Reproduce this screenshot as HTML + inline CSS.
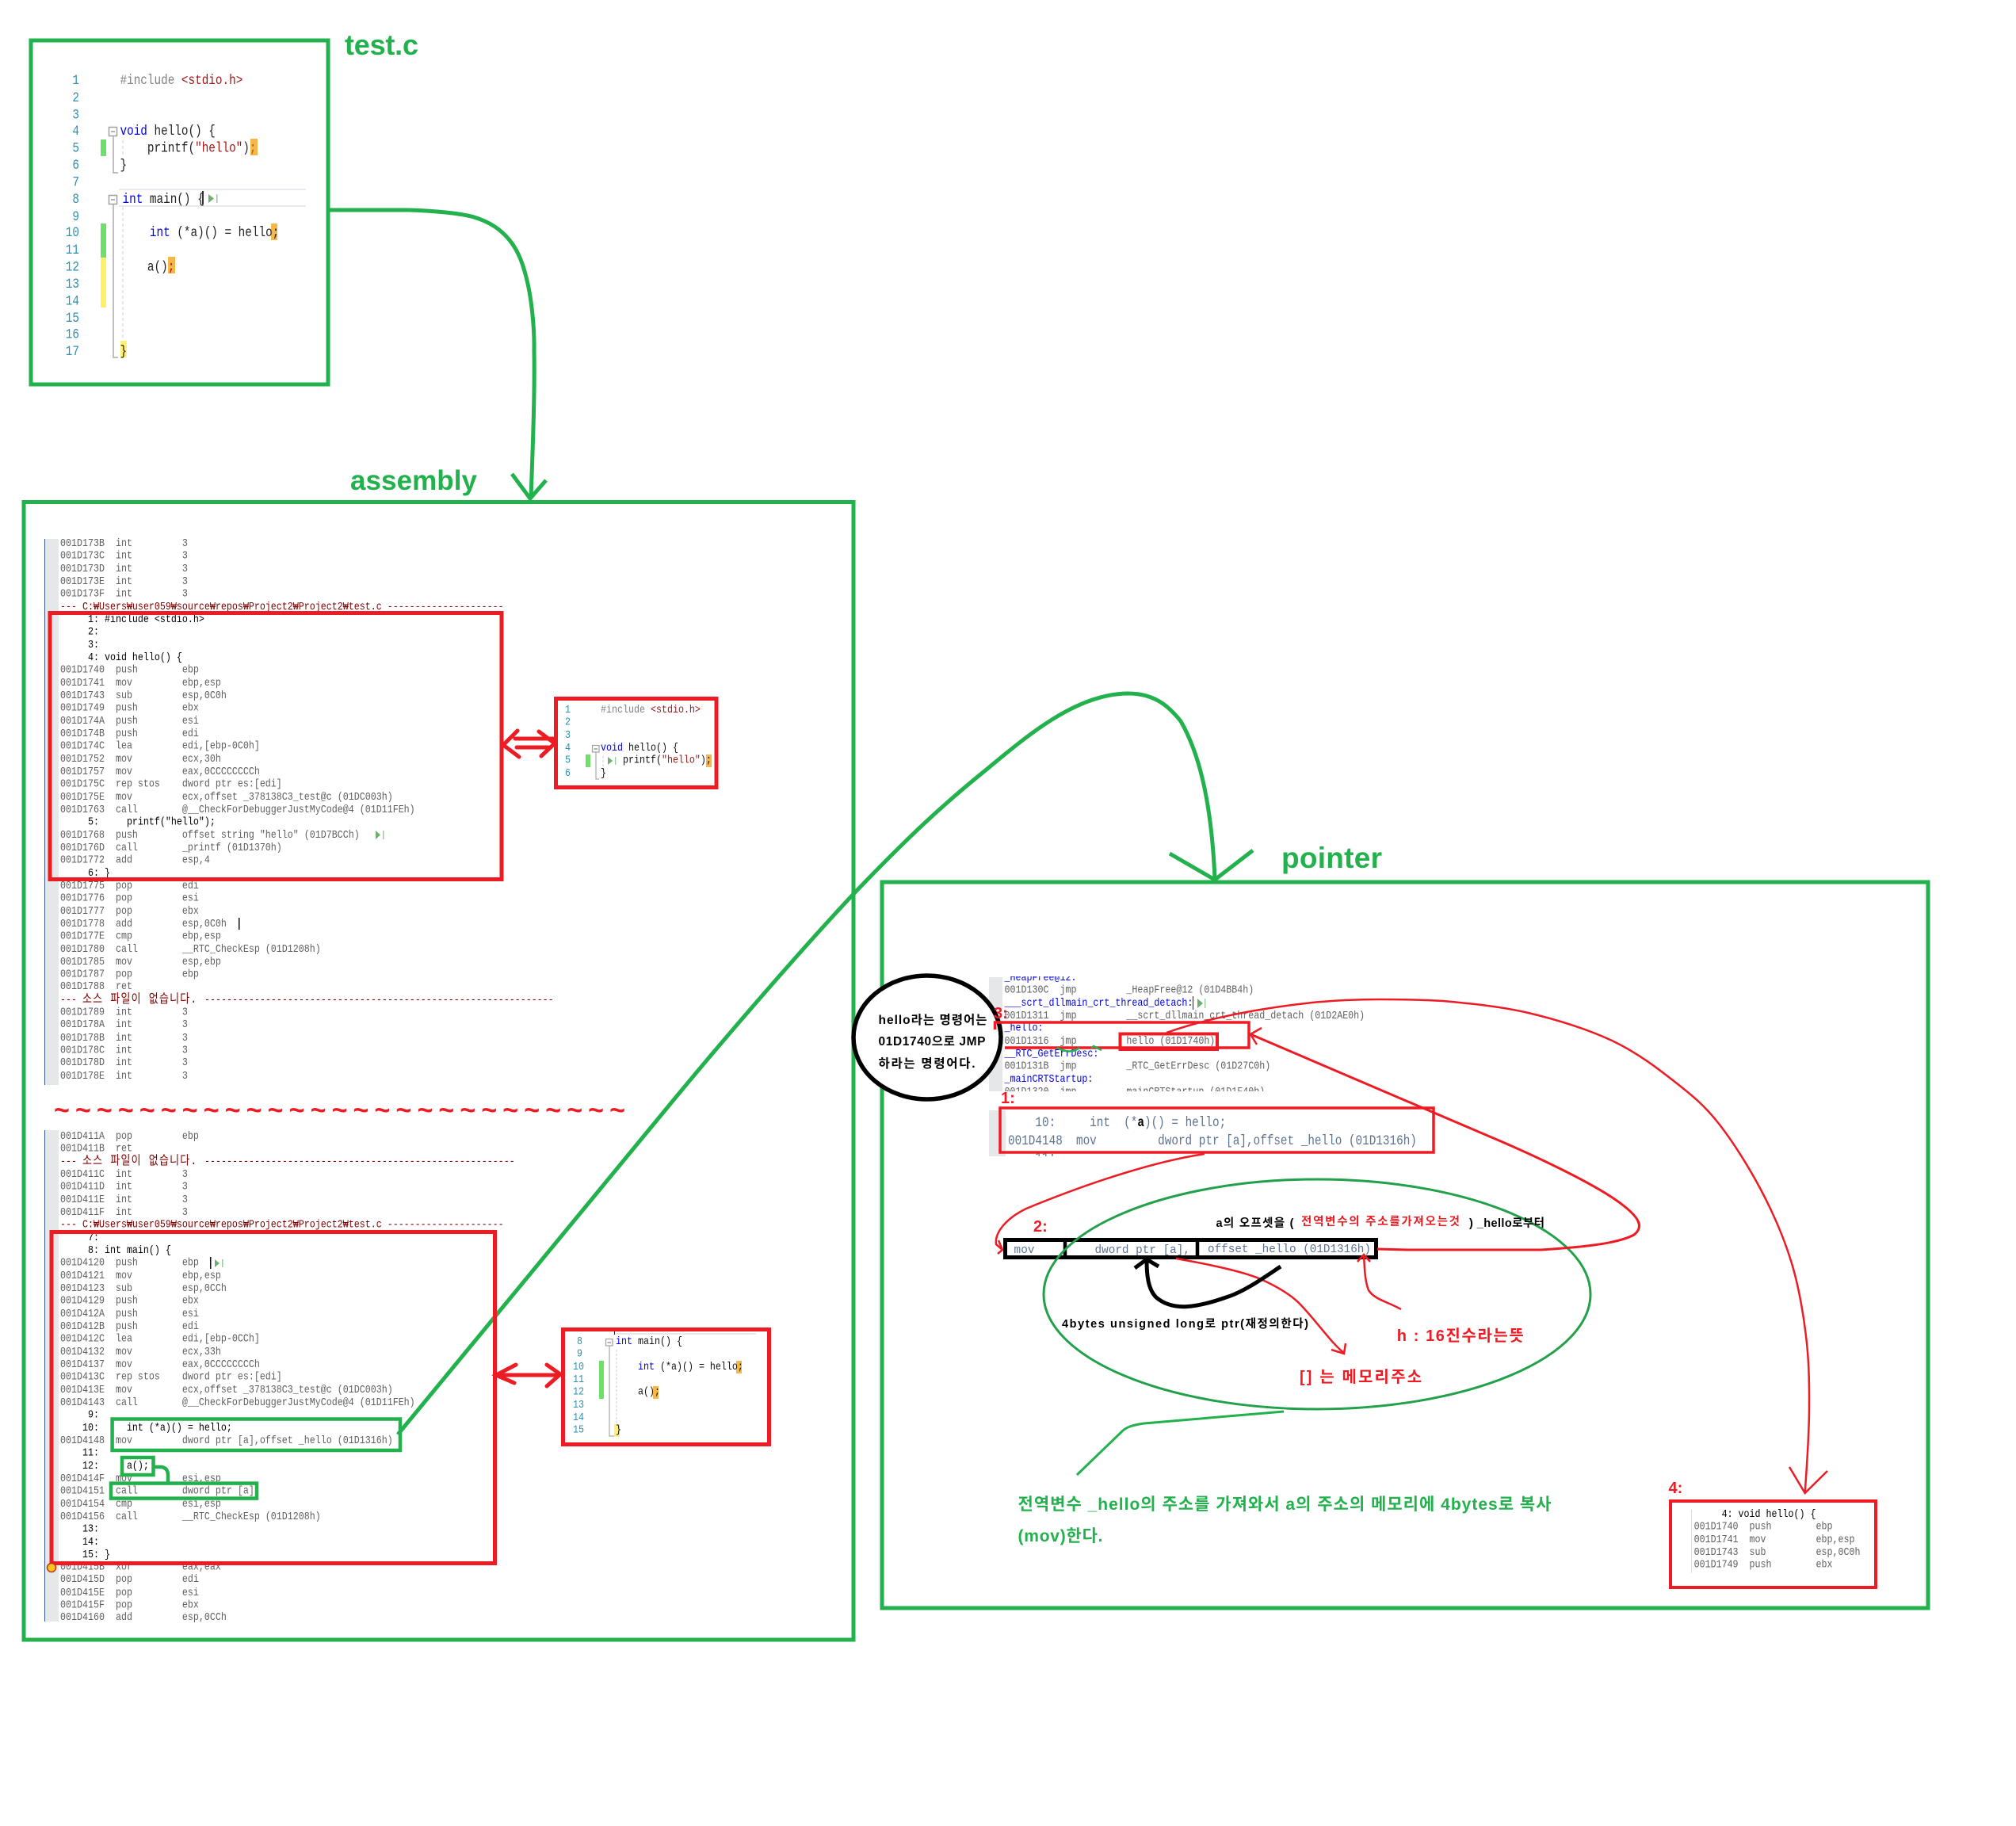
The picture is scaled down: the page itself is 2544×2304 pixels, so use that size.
<!DOCTYPE html>
<html><head><meta charset="utf-8">
<style>
html,body{margin:0;padding:0;background:#fff}
#p{position:relative;width:2544px;height:2304px;overflow:hidden;background:#fff}
svg{position:absolute;left:0;top:0}
.a,.c,.n{position:absolute;margin:0;white-space:pre;transform:scaleY(1.2);transform-origin:0 0;font-family:"Liberation Mono","Noto Sans CJK KR",monospace}
.a{font-size:11.67px;line-height:13.333px;color:#5f5f5f}
.c{font-size:14.33px;line-height:17.833px;color:#222}
.n{font-size:14.33px;line-height:17.833px;color:#2b91af;text-align:right}
.r{color:#800000}.b{color:#000}.u{color:#0000e0}.g{color:#808080}.m{color:#a31515}
.k{display:inline-block;width:154px;line-height:0;font-size:13px;letter-spacing:1.2px}
.w{position:absolute;overflow:hidden}
text{font-family:"Liberation Sans","Noto Sans CJK KR",sans-serif;font-weight:bold}
.t{font-family:"Liberation Mono","Noto Sans CJK KR",monospace;font-weight:normal;fill:#5d7290;font-size:14.33px}
</style></head><body><div id="p">

<svg width="2544" height="2304" viewBox="0 0 2544 2304">
<!-- test.c backgrounds -->
<path d="M150,239H386M150,260H386" stroke="#e8e8f0" stroke-width="2"/>
<rect x="127" y="176" width="7" height="21" fill="#6ee06a"/>
<rect x="127" y="282" width="7" height="43" fill="#6ee06a"/>
<rect x="127" y="325" width="7" height="63" fill="#fff066"/>
<rect x="316" y="175" width="9" height="21" fill="#f6b74a"/>
<rect x="342" y="282" width="8" height="21" fill="#f6b74a"/>
<rect x="212" y="324" width="9" height="21" fill="#f6b74a"/>
<rect x="152" y="430" width="8" height="21" fill="#fff176"/>
<g fill="#fff" stroke="#a0a0a0" stroke-width="1.5">
<rect x="137.5" y="160.5" width="10" height="11"/><rect x="137.5" y="246.5" width="10" height="11"/>
</g>
<path d="M140,166H145M140,252H145" stroke="#666" stroke-width="1"/>
<path d="M143,172V218H149M143,258V451H149" fill="none" stroke="#aaa" stroke-width="1.5"/>
<path d="M155,177V197M155,261V429" stroke="#ccc" stroke-width="1" stroke-dasharray="4 3"/>
<rect x="255" y="241" width="2" height="17" fill="#333"/>
<path d="M263,245L270,250.500L263,256Z" fill="#6fb06f"/><rect x="273" y="245" width="1.500" height="11" fill="#9c9"/>

<!-- assembly gutters -->
<rect x="56" y="680" width="18" height="689" fill="#e6e7e8"/><rect x="56" y="680" width="1" height="689" fill="#3a5a9a"/>
<rect x="56" y="1426" width="18" height="620" fill="#e6e7e8"/><rect x="56" y="1426" width="1" height="620" fill="#3a5a9a"/>
<rect x="301" y="1158" width="1.500" height="15" fill="#111"/>
<path d="M474,1048L480,1053.500L474,1059Z" fill="#6fb06f"/><rect x="483" y="1048" width="1.500" height="11" fill="#9c9"/>
<rect x="265" y="1586" width="1.500" height="15" fill="#111"/>
<path d="M271,1589L277,1594L271,1599Z" fill="#6fb06f"/><rect x="280" y="1589" width="1.500" height="10" fill="#9c9"/>

<!-- small hello crop backgrounds -->
<rect x="739" y="952" width="6" height="16" fill="#6ee06a"/>
<rect x="891" y="952" width="7" height="16" fill="#f6b74a"/>
<rect x="747.500" y="940.500" width="8.500" height="8.500" fill="#fff" stroke="#a0a0a0" stroke-width="1.200"/>
<path d="M749.500,945H754" stroke="#666"/>
<path d="M752,949V983H756" fill="none" stroke="#aaa" stroke-width="1.200"/>
<path d="M761,954V973" stroke="#ccc" stroke-dasharray="3 2"/>
<path d="M767,955L773,960L767,965Z" fill="#6fb06f"/><rect x="776" y="955" width="1.300" height="10" fill="#9c9"/>

<!-- small main crop backgrounds -->
<rect x="775" y="1682" width="179" height="2" fill="#e8e8f0"/><rect x="775" y="1678" width="1" height="6" fill="#222"/>
<rect x="756" y="1717" width="6" height="48" fill="#6ee06a"/>
<rect x="929" y="1717" width="7" height="16" fill="#f6b74a"/>
<rect x="824" y="1749" width="7" height="16" fill="#f6b74a"/>
<rect x="775" y="1797" width="7" height="16" fill="#fff176"/>
<rect x="764.500" y="1689.500" width="8.500" height="8.500" fill="#fff" stroke="#a0a0a0" stroke-width="1.200"/>
<path d="M766.500,1694H771" stroke="#666"/>
<path d="M769,1698V1812H775" fill="none" stroke="#aaa" stroke-width="1.200"/>
<path d="M778,1703V1797" stroke="#ccc" stroke-dasharray="3 2"/>

<!-- pointer crop gutters -->
<rect x="1248" y="1233" width="17" height="144" fill="#e6e7e8"/>
<rect x="1248" y="1401" width="21" height="58" fill="#e6e7e8"/>
<rect x="2134" y="1905" width="1" height="80" fill="#ddd"/>
</svg>

<!-- test.c text -->
<pre class="n" style="left:76px;top:93px;width:24px">1
2
3
4
5
6
7
8
9
10
11
12
13
14
15
16
17</pre>
<pre class="c" style="left:151.500px;top:93px"><span class="g">#include</span> <span class="m">&lt;stdio.h&gt;</span>


<span class="u">void</span> hello() {
    printf(<span class="m">"hello"</span>)<span style="color:#b06000">;</span>
}

<span style="position:relative;left:3px"><span class="u">int</span> main() {</span>

<span style="position:relative;left:3px">    <span class="u">int</span> (*a)() = hello;</span>

    a()<span style="color:#c00">;</span>




}</pre>

<!-- assembly block 1 -->
<pre class="a" style="left:76px;top:677.700px">001D173B  int         3
001D173C  int         3
001D173D  int         3
001D173E  int         3
001D173F  int         3
<span class="r">--- C:₩Users₩user059₩source₩repos₩Project2₩Project2₩test.c ---------------------</span>
<span class="b">     1: #include &lt;stdio.h&gt;
     2:
     3:
     4: void hello() {</span>
001D1740  push        ebp
001D1741  mov         ebp,esp
001D1743  sub         esp,0C0h
001D1749  push        ebx
001D174A  push        esi
001D174B  push        edi
001D174C  lea         edi,[ebp-0C0h]
001D1752  mov         ecx,30h
001D1757  mov         eax,0CCCCCCCCh
001D175C  rep stos    dword ptr es:[edi]
001D175E  mov         ecx,offset _378138C3_test@c (01DC003h)
001D1763  call        @__CheckForDebuggerJustMyCode@4 (01D11FEh)
<span class="b">     5:     printf("hello");</span>
001D1768  push        offset string "hello" (01D7BCCh)
001D176D  call        _printf (01D1370h)
001D1772  add         esp,4
<span class="b">     6: }</span>
001D1775  pop         edi
001D1776  pop         esi
001D1777  pop         ebx
001D1778  add         esp,0C0h
001D177E  cmp         ebp,esp
001D1780  call        __RTC_CheckEsp (01D1208h)
001D1785  mov         esp,ebp
001D1787  pop         ebp
001D1788  ret
<span class="r">--- <span class="k">소스 파일이 없습니다.</span>---------------------------------------------------------------</span>
001D1789  int         3
001D178A  int         3
001D178B  int         3
001D178C  int         3
001D178D  int         3
001D178E  int         3</pre>

<!-- assembly block 2 -->
<pre class="a" style="left:76px;top:1425.800px">001D411A  pop         ebp
001D411B  ret
<span class="r">--- <span class="k">소스 파일이 없습니다.</span>--------------------------------------------------------</span>
001D411C  int         3
001D411D  int         3
001D411E  int         3
001D411F  int         3
<span class="r">--- C:₩Users₩user059₩source₩repos₩Project2₩Project2₩test.c ---------------------</span>
<span class="b">     7:
     8: int main() {</span>
001D4120  push        ebp
001D4121  mov         ebp,esp
001D4123  sub         esp,0CCh
001D4129  push        ebx
001D412A  push        esi
001D412B  push        edi
001D412C  lea         edi,[ebp-0CCh]
001D4132  mov         ecx,33h
001D4137  mov         eax,0CCCCCCCCh
001D413C  rep stos    dword ptr es:[edi]
001D413E  mov         ecx,offset _378138C3_test@c (01DC003h)
001D4143  call        @__CheckForDebuggerJustMyCode@4 (01D11FEh)
<span class="b">     9:
    10:     int (*a)() = hello;</span>
001D4148  mov         dword ptr [a],offset _hello (01D1316h)
<span class="b">    11:
    12:     a();</span>
001D414F  mov         esi,esp
001D4151  call        dword ptr [a]
001D4154  cmp         esi,esp
001D4156  call        __RTC_CheckEsp (01D1208h)
<span class="b">    13:
    14:
    15: }</span>
001D415B  xor         eax,eax
001D415D  pop         edi
001D415E  pop         esi
001D415F  pop         ebx
001D4160  add         esp,0CCh</pre>

<!-- small hello crop -->
<pre class="a" style="left:713px;top:887.700px;color:#2b91af">1
2
3
4
5
6</pre>
<pre class="a" style="left:758px;top:887.700px;color:#111"><span class="g">#include</span> <span class="m">&lt;stdio.h&gt;</span>


<span class="u">void</span> hello() {
    printf(<span class="m">"hello"</span>);
}</pre>

<!-- small main crop -->
<pre class="a" style="left:723px;top:1684.700px;color:#2b91af;width:12px;text-align:right">8
9
10
11
12
13
14
15</pre>
<pre class="a" style="left:777px;top:1684.700px;color:#111"><span class="u">int</span> main() {

    <span class="u">int</span> (*a)() = hello;

    a();


}</pre>

<!-- pointer crops -->
<div class="w" style="left:1248px;top:1232px;width:520px;height:145px">
<pre class="a" style="left:19.500px;top:-6px"><span class="u">_HeapFree@12:</span>
001D130C  jmp         _HeapFree@12 (01D4BB4h)
<span class="u">___scrt_dllmain_crt_thread_detach:</span>
001D1311  jmp         __scrt_dllmain_crt_thread_detach (01D2AE0h)
<span class="u">_hello:</span>
001D1316  jmp         hello (01D1740h)
<span class="u">__RTC_GetErrDesc:</span>
001D131B  jmp         _RTC_GetErrDesc (01D27C0h)
<span class="u">_mainCRTStartup:</span>
001D1320  jmp         mainCRTStartup (01D1F40h)</pre>
</div>
<div class="w" style="left:1248px;top:1400px;width:555px;height:59px">
<pre class="c" style="left:24px;top:-15px;line-height:18.333px;color:#5d7290">     9:
    10:     int  (*<b style="color:#000">a</b>)() = hello;
001D4148  mov         dword ptr [a],offset _hello (01D1316h)
    11:</pre>
</div>
<pre class="a" style="left:2137.600px;top:1902.700px"><span class="b">     4: void hello() {</span>
001D1740  push        ebp
001D1741  mov         ebp,esp
001D1743  sub         esp,0C0h
001D1749  push        ebx</pre>

<svg width="2544" height="2304" viewBox="0 0 2544 2304" fill="none">
<!-- Big green frames -->
<g stroke="#22b14c" stroke-width="5">
<rect x="39" y="51" width="375" height="434"/>
<rect x="30" y="633.500" width="1047" height="1435.500"/>
<rect x="1113" y="1113" width="1320" height="916"/>
<path d="M416,265 L516,265 C545,266 575,268 597,273.600 C618,279.900 631.500,289 643,303 C654.500,317 660.800,334.800 666,358 C671,381 674.500,414 674,442 C675,500 672,570 670,629"/>
<path d="M646,598 L669,629 L689,606"/>
<path d="M502,1810 L840,1400 C900,1327 1000,1210 1077,1128 C1146,1056 1190,1015 1246,970 C1300,925 1360,875 1424,875 C1460,875 1478,895 1490,910 C1510,945 1528,1000 1533,1108"/>
<path d="M1476,1077 L1533,1110 L1581,1073"/>
</g>
<!-- red frames -->
<g stroke="#ed1c24" stroke-width="5">
<rect x="63" y="773.500" width="570" height="336"/>
<rect x="701.500" y="881.500" width="202.500" height="112"/>
<rect x="65" y="1554.500" width="559.500" height="418"/>
<rect x="710.500" y="1677.500" width="260" height="145"/>
<path d="M650,932H698M652,943H695M653,922L635,940L655,955M680,923L700,938L683,954" stroke-linecap="round"/>
<path d="M628,1735H706M651,1722L626,1735L649,1745M690,1722L707,1734L690,1749" stroke-linecap="round"/>
</g>
<!-- green inner -->
<g stroke="#22b14c" stroke-width="4.500">
<rect x="141.600" y="1790.500" width="363.400" height="39.500"/>
<rect x="154" y="1839" width="39.500" height="22"/>
<rect x="140" y="1871.600" width="184" height="19"/>
<path d="M195.500,1851H204C210,1852 212,1856 212,1862V1870"/>
</g>
<circle cx="65" cy="1978" r="5.500" fill="#f5c518" stroke="#c03020" stroke-width="1.500"/>

<!-- separator -->
<text x="68" y="1412" font-size="34" fill="#ed1c24" letter-spacing="7" textLength="728">~~~~~~~~~~~~~~~~~~~~~~~~~~~</text>

<!-- titles -->
<text x="435" y="69" font-size="36" fill="#22b14c" textLength="93">test.c</text>
<text x="442" y="618" font-size="35" fill="#22b14c" textLength="160">assembly</text>
<text x="1617" y="1095" font-size="37" fill="#22b14c" textLength="127">pointer</text>

<!-- pointer: ellipse note -->
<ellipse cx="1170" cy="1309" rx="93" ry="78" fill="#fff" stroke="#000" stroke-width="5.500"/>
<g fill="#000" font-size="15.500">
<text x="1108.500" y="1292" textLength="137">hello라는 명령어는</text>
<text x="1108.500" y="1319" textLength="135">01D1740으로 JMP</text>
<text x="1108.500" y="1347" textLength="122">하라는 명령어다.</text>
</g>

<!-- caret in crop 1 -->
<rect x="1505" y="1257" width="1" height="17" fill="#222"/>
<path d="M1511,1260L1518,1266L1511,1272Z" fill="#6fb06f"/><rect x="1520" y="1260" width="1.300" height="12" fill="#9c9"/>

<!-- pointer red frames and labels -->
<g stroke="#ed1c24">
<path d="M1255.500,1299V1290H1576V1322H1268" stroke-width="3.500"/>
<rect x="1413.500" y="1304.500" width="122.500" height="19.500" stroke-width="4"/>
<rect x="1262" y="1398" width="547" height="56" stroke-width="3.500"/>
<rect x="2108" y="1894" width="259" height="109" stroke-width="4"/>
</g>
<path d="M1334,1322C1345,1328 1355,1328 1362,1322M1377,1323L1380,1320L1390,1325" stroke="#22b14c" stroke-width="2.500"/>
<g fill="#ed1c24" font-size="20">
<text x="1254" y="1285">3:</text>
<text x="1263" y="1392">1:</text>
<text x="1304" y="1554">2:</text>
<text x="2105.500" y="1884">4:</text>
</g>

<!-- mov bar -->
<rect x="1268.500" y="1564.500" width="468" height="22" stroke="#000" stroke-width="5"/>
<path d="M1344,1564V1587M1511,1564V1587" stroke="#000" stroke-width="4.500"/>
<text class="t" x="1279.500" y="1581" textLength="26">mov</text>
<text class="t" x="1381.500" y="1581" textLength="120.500">dword ptr [a],</text>
<text class="t" x="1524" y="1580" textLength="206">offset _hello (01D1316h)</text>

<!-- ellipse and curves -->
<ellipse cx="1662" cy="1633" rx="345" ry="145" stroke="#22a04a" stroke-width="3"/>
<path d="M1620,1781 L1444,1796 C1430,1798 1423,1800 1417,1805 L1359,1861" stroke="#22b14c" stroke-width="3"/>
<g stroke="#ed1c24">
<path d="M1520,1456 C1460,1465 1380,1490 1295,1525 C1270,1537 1255,1555 1257,1570 L1265,1577 M1260,1565L1265,1577L1259,1582" stroke-width="2.500"/>
<path d="M1738,1576 L1776,1577 L1945,1577 C1990,1574 2040,1570 2062,1558 C2075,1548 2070,1535 2036,1512 C2000,1488 1930,1455 1875,1432 L1578,1305" stroke-width="3"/>
<path d="M1592,1297 L1578,1305 L1586,1318" stroke-width="2.500"/>
<path d="M1472,1303 C1500,1293 1560,1275 1661,1264.500 C1688,1262 1714,1261 1741,1261 C1768,1261 1795,1261.500 1821,1263 C1852,1266 1892.700,1269.600 1928.500,1278 C1964.300,1286.400 2004.400,1298.900 2035.600,1313.700 C2066.800,1328.500 2093.700,1349.500 2116,1367 C2138.300,1384.500 2151.800,1395.900 2169.600,1418.600 C2187.400,1441.300 2207.800,1474 2223,1503 C2238.200,1532 2251.300,1562.200 2260.600,1592.700 C2269.900,1623.200 2275.300,1655.500 2279,1686 C2282.700,1716.500 2283.200,1742.900 2283,1775.700 C2283,1810 2280,1850 2277.700,1883" stroke-width="2.500"/>
<path d="M2258,1851 L2277.700,1884 L2306,1856" stroke-width="2.500"/>
<path d="M1484,1588 C1530,1596 1570,1605 1591,1614 C1615,1625 1630,1635 1639,1644 C1660,1665 1680,1695 1696,1707 M1680,1703L1696,1708L1698,1695" stroke-width="2.500"/>
<path d="M1768,1652 C1750,1642 1735,1640 1727,1628 C1722,1615 1722,1600 1721,1583 M1713,1592L1721,1583L1729,1592" stroke-width="2.500"/>
</g>
<path d="M1616,1598 C1595,1612 1570,1630 1547,1637 C1510,1650 1480,1655 1459,1637 C1449,1627 1447,1610 1447,1590 M1432,1600L1447,1589L1462,1598" stroke="#000" stroke-width="5"/>

<!-- pointer annotation text -->
<g font-size="14.500">
<text x="1534.500" y="1548" fill="#000" textLength="98">a의 오프셋을 (</text>
<text x="1642" y="1546" fill="#ed1c24" textLength="200">전역변수의 주소를가져오는것</text>
<text x="1854" y="1548" fill="#000" textLength="95">) _hello로부터</text>
<text x="1340" y="1675" fill="#000" textLength="311">4bytes unsigned long로  ptr(재정의한다)</text>
</g>
<g font-size="20" fill="#ed1c24">
<text x="1762.800" y="1692" textLength="160">h : 16진수라는뜻</text>
<text x="1640" y="1744" textLength="154">[] 는 메모리주소</text>
</g>
<g font-size="21" fill="#22b14c">
<text x="1284.500" y="1905" textLength="673">전역변수 _hello의 주소를 가져와서 a의 주소의 메모리에 4bytes로 복사</text>
<text x="1284.500" y="1945" textLength="107">(mov)한다.</text>
</g>
</svg>
</div></body></html>
